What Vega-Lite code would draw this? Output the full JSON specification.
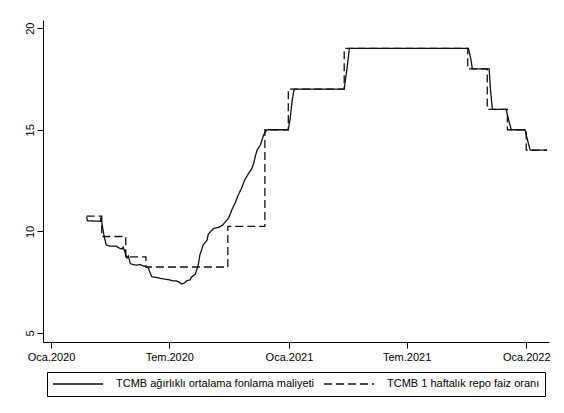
{
  "$schema": "https://vega.github.io/schema/vega-lite/v6.json",
  "width": 506,
  "height": 322,
  "autosize": {"type": "none"},
  "padding": {"left": 43, "top": 20, "right": 15, "bottom": 71},
  "background": "white",
  "config": {
    "view": {"stroke": null},
    "font": "Liberation Sans",
    "axis": {
      "grid": false,
      "domainColor": "#000",
      "tickColor": "#000",
      "labelColor": "#000",
      "labelFont": "Liberation Sans",
      "labelFontSize": 11,
      "tickSize": 6,
      "domainWidth": 1,
      "tickWidth": 1,
      "title": null
    }
  },
  "datasets": {
    "maliyet": [
      {"tarih": "2020-02-25", "deger": 10.73, "seri": "TCMB ağırlıklı ortalama fonlama maliyeti"},
      {"tarih": "2020-02-26", "deger": 10.52, "seri": "TCMB ağırlıklı ortalama fonlama maliyeti"},
      {"tarih": "2020-03-17", "deger": 10.5, "seri": "TCMB ağırlıklı ortalama fonlama maliyeti"},
      {"tarih": "2020-03-18", "deger": 10.7, "seri": "TCMB ağırlıklı ortalama fonlama maliyeti"},
      {"tarih": "2020-03-21", "deger": 10.07, "seri": "TCMB ağırlıklı ortalama fonlama maliyeti"},
      {"tarih": "2020-03-23", "deger": 9.72, "seri": "TCMB ağırlıklı ortalama fonlama maliyeti"},
      {"tarih": "2020-03-26", "deger": 9.33, "seri": "TCMB ağırlıklı ortalama fonlama maliyeti"},
      {"tarih": "2020-04-01", "deger": 9.28, "seri": "TCMB ağırlıklı ortalama fonlama maliyeti"},
      {"tarih": "2020-04-11", "deger": 9.28, "seri": "TCMB ağırlıklı ortalama fonlama maliyeti"},
      {"tarih": "2020-04-13", "deger": 9.21, "seri": "TCMB ağırlıklı ortalama fonlama maliyeti"},
      {"tarih": "2020-04-19", "deger": 9.13, "seri": "TCMB ağırlıklı ortalama fonlama maliyeti"},
      {"tarih": "2020-04-21", "deger": 9.23, "seri": "TCMB ağırlıklı ortalama fonlama maliyeti"},
      {"tarih": "2020-04-24", "deger": 8.96, "seri": "TCMB ağırlıklı ortalama fonlama maliyeti"},
      {"tarih": "2020-04-27", "deger": 8.69, "seri": "TCMB ağırlıklı ortalama fonlama maliyeti"},
      {"tarih": "2020-04-29", "deger": 8.79, "seri": "TCMB ağırlıklı ortalama fonlama maliyeti"},
      {"tarih": "2020-05-02", "deger": 8.42, "seri": "TCMB ağırlıklı ortalama fonlama maliyeti"},
      {"tarih": "2020-05-06", "deger": 8.37, "seri": "TCMB ağırlıklı ortalama fonlama maliyeti"},
      {"tarih": "2020-05-12", "deger": 8.34, "seri": "TCMB ağırlıklı ortalama fonlama maliyeti"},
      {"tarih": "2020-05-17", "deger": 8.37, "seri": "TCMB ağırlıklı ortalama fonlama maliyeti"},
      {"tarih": "2020-05-22", "deger": 8.3, "seri": "TCMB ağırlıklı ortalama fonlama maliyeti"},
      {"tarih": "2020-05-26", "deger": 8.27, "seri": "TCMB ağırlıklı ortalama fonlama maliyeti"},
      {"tarih": "2020-05-30", "deger": 8.18, "seri": "TCMB ağırlıklı ortalama fonlama maliyeti"},
      {"tarih": "2020-06-01", "deger": 8.0, "seri": "TCMB ağırlıklı ortalama fonlama maliyeti"},
      {"tarih": "2020-06-04", "deger": 7.77, "seri": "TCMB ağırlıklı ortalama fonlama maliyeti"},
      {"tarih": "2020-06-12", "deger": 7.73, "seri": "TCMB ağırlıklı ortalama fonlama maliyeti"},
      {"tarih": "2020-06-17", "deger": 7.69, "seri": "TCMB ağırlıklı ortalama fonlama maliyeti"},
      {"tarih": "2020-06-27", "deger": 7.64, "seri": "TCMB ağırlıklı ortalama fonlama maliyeti"},
      {"tarih": "2020-07-02", "deger": 7.61, "seri": "TCMB ağırlıklı ortalama fonlama maliyeti"},
      {"tarih": "2020-07-07", "deger": 7.57, "seri": "TCMB ağırlıklı ortalama fonlama maliyeti"},
      {"tarih": "2020-07-12", "deger": 7.56, "seri": "TCMB ağırlıklı ortalama fonlama maliyeti"},
      {"tarih": "2020-07-16", "deger": 7.51, "seri": "TCMB ağırlıklı ortalama fonlama maliyeti"},
      {"tarih": "2020-07-20", "deger": 7.41, "seri": "TCMB ağırlıklı ortalama fonlama maliyeti"},
      {"tarih": "2020-07-24", "deger": 7.46, "seri": "TCMB ağırlıklı ortalama fonlama maliyeti"},
      {"tarih": "2020-07-28", "deger": 7.58, "seri": "TCMB ağırlıklı ortalama fonlama maliyeti"},
      {"tarih": "2020-08-02", "deger": 7.61, "seri": "TCMB ağırlıklı ortalama fonlama maliyeti"},
      {"tarih": "2020-08-04", "deger": 7.75, "seri": "TCMB ağırlıklı ortalama fonlama maliyeti"},
      {"tarih": "2020-08-10", "deger": 7.9, "seri": "TCMB ağırlıklı ortalama fonlama maliyeti"},
      {"tarih": "2020-08-13", "deger": 8.2, "seri": "TCMB ağırlıklı ortalama fonlama maliyeti"},
      {"tarih": "2020-08-15", "deger": 8.43, "seri": "TCMB ağırlıklı ortalama fonlama maliyeti"},
      {"tarih": "2020-08-17", "deger": 8.84, "seri": "TCMB ağırlıklı ortalama fonlama maliyeti"},
      {"tarih": "2020-08-20", "deger": 9.13, "seri": "TCMB ağırlıklı ortalama fonlama maliyeti"},
      {"tarih": "2020-08-22", "deger": 9.33, "seri": "TCMB ağırlıklı ortalama fonlama maliyeti"},
      {"tarih": "2020-08-25", "deger": 9.45, "seri": "TCMB ağırlıklı ortalama fonlama maliyeti"},
      {"tarih": "2020-08-28", "deger": 9.57, "seri": "TCMB ağırlıklı ortalama fonlama maliyeti"},
      {"tarih": "2020-08-30", "deger": 9.87, "seri": "TCMB ağırlıklı ortalama fonlama maliyeti"},
      {"tarih": "2020-09-02", "deger": 9.98, "seri": "TCMB ağırlıklı ortalama fonlama maliyeti"},
      {"tarih": "2020-09-07", "deger": 10.14, "seri": "TCMB ağırlıklı ortalama fonlama maliyeti"},
      {"tarih": "2020-09-09", "deger": 10.16, "seri": "TCMB ağırlıklı ortalama fonlama maliyeti"},
      {"tarih": "2020-09-14", "deger": 10.19, "seri": "TCMB ağırlıklı ortalama fonlama maliyeti"},
      {"tarih": "2020-09-17", "deger": 10.24, "seri": "TCMB ağırlıklı ortalama fonlama maliyeti"},
      {"tarih": "2020-09-21", "deger": 10.31, "seri": "TCMB ağırlıklı ortalama fonlama maliyeti"},
      {"tarih": "2020-09-25", "deger": 10.46, "seri": "TCMB ağırlıklı ortalama fonlama maliyeti"},
      {"tarih": "2020-09-30", "deger": 10.64, "seri": "TCMB ağırlıklı ortalama fonlama maliyeti"},
      {"tarih": "2020-10-02", "deger": 10.8, "seri": "TCMB ağırlıklı ortalama fonlama maliyeti"},
      {"tarih": "2020-10-05", "deger": 11.05, "seri": "TCMB ağırlıklı ortalama fonlama maliyeti"},
      {"tarih": "2020-10-10", "deger": 11.38, "seri": "TCMB ağırlıklı ortalama fonlama maliyeti"},
      {"tarih": "2020-10-15", "deger": 11.79, "seri": "TCMB ağırlıklı ortalama fonlama maliyeti"},
      {"tarih": "2020-10-20", "deger": 12.12, "seri": "TCMB ağırlıklı ortalama fonlama maliyeti"},
      {"tarih": "2020-10-25", "deger": 12.53, "seri": "TCMB ağırlıklı ortalama fonlama maliyeti"},
      {"tarih": "2020-10-31", "deger": 12.86, "seri": "TCMB ağırlıklı ortalama fonlama maliyeti"},
      {"tarih": "2020-11-05", "deger": 13.1, "seri": "TCMB ağırlıklı ortalama fonlama maliyeti"},
      {"tarih": "2020-11-08", "deger": 13.36, "seri": "TCMB ağırlıklı ortalama fonlama maliyeti"},
      {"tarih": "2020-11-10", "deger": 13.67, "seri": "TCMB ağırlıklı ortalama fonlama maliyeti"},
      {"tarih": "2020-11-13", "deger": 14.0, "seri": "TCMB ağırlıklı ortalama fonlama maliyeti"},
      {"tarih": "2020-11-18", "deger": 14.25, "seri": "TCMB ağırlıklı ortalama fonlama maliyeti"},
      {"tarih": "2020-11-23", "deger": 14.74, "seri": "TCMB ağırlıklı ortalama fonlama maliyeti"},
      {"tarih": "2020-11-27", "deger": 14.96, "seri": "TCMB ağırlıklı ortalama fonlama maliyeti"},
      {"tarih": "2020-11-30", "deger": 15.0, "seri": "TCMB ağırlıklı ortalama fonlama maliyeti"},
      {"tarih": "2020-12-31", "deger": 15.0, "seri": "TCMB ağırlıklı ortalama fonlama maliyeti"},
      {"tarih": "2021-01-03", "deger": 15.58, "seri": "TCMB ağırlıklı ortalama fonlama maliyeti"},
      {"tarih": "2021-01-06", "deger": 16.46, "seri": "TCMB ağırlıklı ortalama fonlama maliyeti"},
      {"tarih": "2021-01-09", "deger": 17.0, "seri": "TCMB ağırlıklı ortalama fonlama maliyeti"},
      {"tarih": "2021-03-27", "deger": 17.0, "seri": "TCMB ağırlıklı ortalama fonlama maliyeti"},
      {"tarih": "2021-03-31", "deger": 17.94, "seri": "TCMB ağırlıklı ortalama fonlama maliyeti"},
      {"tarih": "2021-04-04", "deger": 19.0, "seri": "TCMB ağırlıklı ortalama fonlama maliyeti"},
      {"tarih": "2021-10-04", "deger": 19.0, "seri": "TCMB ağırlıklı ortalama fonlama maliyeti"},
      {"tarih": "2021-10-08", "deger": 18.45, "seri": "TCMB ağırlıklı ortalama fonlama maliyeti"},
      {"tarih": "2021-10-10", "deger": 18.0, "seri": "TCMB ağırlıklı ortalama fonlama maliyeti"},
      {"tarih": "2021-11-05", "deger": 18.0, "seri": "TCMB ağırlıklı ortalama fonlama maliyeti"},
      {"tarih": "2021-11-07", "deger": 16.95, "seri": "TCMB ağırlıklı ortalama fonlama maliyeti"},
      {"tarih": "2021-11-10", "deger": 16.0, "seri": "TCMB ağırlıklı ortalama fonlama maliyeti"},
      {"tarih": "2021-12-01", "deger": 16.0, "seri": "TCMB ağırlıklı ortalama fonlama maliyeti"},
      {"tarih": "2021-12-05", "deger": 15.48, "seri": "TCMB ağırlıklı ortalama fonlama maliyeti"},
      {"tarih": "2021-12-09", "deger": 15.0, "seri": "TCMB ağırlıklı ortalama fonlama maliyeti"},
      {"tarih": "2021-12-30", "deger": 15.0, "seri": "TCMB ağırlıklı ortalama fonlama maliyeti"},
      {"tarih": "2022-01-03", "deger": 14.49, "seri": "TCMB ağırlıklı ortalama fonlama maliyeti"},
      {"tarih": "2022-01-07", "deger": 14.0, "seri": "TCMB ağırlıklı ortalama fonlama maliyeti"},
      {"tarih": "2022-02-02", "deger": 14.0, "seri": "TCMB ağırlıklı ortalama fonlama maliyeti"}
    ],
    "repo": [
      {"tarih": "2020-02-25", "deger": 10.75, "seri": "TCMB 1 haftalık repo faiz oranı"},
      {"tarih": "2020-03-19", "deger": 9.75, "seri": "TCMB 1 haftalık repo faiz oranı"},
      {"tarih": "2020-04-25", "deger": 8.75, "seri": "TCMB 1 haftalık repo faiz oranı"},
      {"tarih": "2020-05-26", "deger": 8.25, "seri": "TCMB 1 haftalık repo faiz oranı"},
      {"tarih": "2020-09-29", "deger": 10.25, "seri": "TCMB 1 haftalık repo faiz oranı"},
      {"tarih": "2020-11-25", "deger": 15.0, "seri": "TCMB 1 haftalık repo faiz oranı"},
      {"tarih": "2020-12-31", "deger": 17.0, "seri": "TCMB 1 haftalık repo faiz oranı"},
      {"tarih": "2021-03-27", "deger": 19.0, "seri": "TCMB 1 haftalık repo faiz oranı"},
      {"tarih": "2021-10-03", "deger": 18.0, "seri": "TCMB 1 haftalık repo faiz oranı"},
      {"tarih": "2021-11-02", "deger": 16.0, "seri": "TCMB 1 haftalık repo faiz oranı"},
      {"tarih": "2021-12-03", "deger": 15.0, "seri": "TCMB 1 haftalık repo faiz oranı"},
      {"tarih": "2022-01-01", "deger": 14.0, "seri": "TCMB 1 haftalık repo faiz oranı"},
      {"tarih": "2022-02-02", "deger": 14.0, "seri": "TCMB 1 haftalık repo faiz oranı"}
    ]
  },
  "encoding": {
    "x": {
      "field": "tarih",
      "type": "temporal",
      "scale": {
        "type": "utc",
        "domain": [
          {"year": 2019, "month": 12, "date": 19, "hours": 17, "utc": true},
          {"year": 2022, "month": 2, "date": 5, "utc": true}
        ]
      },
      "axis": {
        "values": [
          {"year": 2020, "month": 1, "date": 1, "utc": true},
          {"year": 2020, "month": 7, "date": 1, "utc": true},
          {"year": 2021, "month": 1, "date": 1, "utc": true},
          {"year": 2021, "month": 7, "date": 1, "utc": true},
          {"year": 2022, "month": 1, "date": 1, "utc": true}
        ],
        "labelExpr": "(utcmonth(datum.value) == 0 ? 'Oca' : 'Tem') + '.' + utcyear(datum.value)",
        "labelPadding": 3,
        "labelFlush": false,
        "labelOverlap": false
      }
    },
    "y": {
      "field": "deger",
      "type": "quantitative",
      "scale": {"domain": [4.56, 20.4], "nice": false, "zero": false},
      "axis": {
        "values": [5, 10, 15, 20],
        "labelAngle": -90,
        "labelAlign": "center",
        "labelBaseline": "alphabetic",
        "labelPadding": 3.5
      }
    },
    "strokeDash": {
      "field": "seri",
      "type": "nominal",
      "scale": {
        "domain": ["TCMB ağırlıklı ortalama fonlama maliyeti", "TCMB 1 haftalık repo faiz oranı"],
        "range": [[1, 0], [8, 4]]
      },
      "legend": {
        "orient": "none",
        "legendX": 4,
        "legendY": 352,
        "direction": "horizontal",
        "title": null,
        "strokeColor": "#000",
        "fillColor": "white",
        "padding": 5,
        "symbolType": "stroke",
        "symbolSize": 2500,
        "symbolStrokeWidth": 1.3,
        "symbolStrokeColor": "#111",
        "clipHeight": 14,
        "labelOffset": 12,
        "columnPadding": 8,
        "labelFont": "Liberation Sans",
        "labelFontSize": 11,
        "labelColor": "#000",
        "labelLimit": 400
      }
    }
  },
  "layer": [
    {
      "data": {"name": "maliyet"},
      "mark": {"type": "line", "interpolate": "linear", "strokeWidth": 1.3, "color": "#111"}
    },
    {
      "data": {"name": "repo"},
      "mark": {"type": "line", "interpolate": "step-after", "strokeWidth": 1.3, "color": "#111"}
    }
  ]
}
